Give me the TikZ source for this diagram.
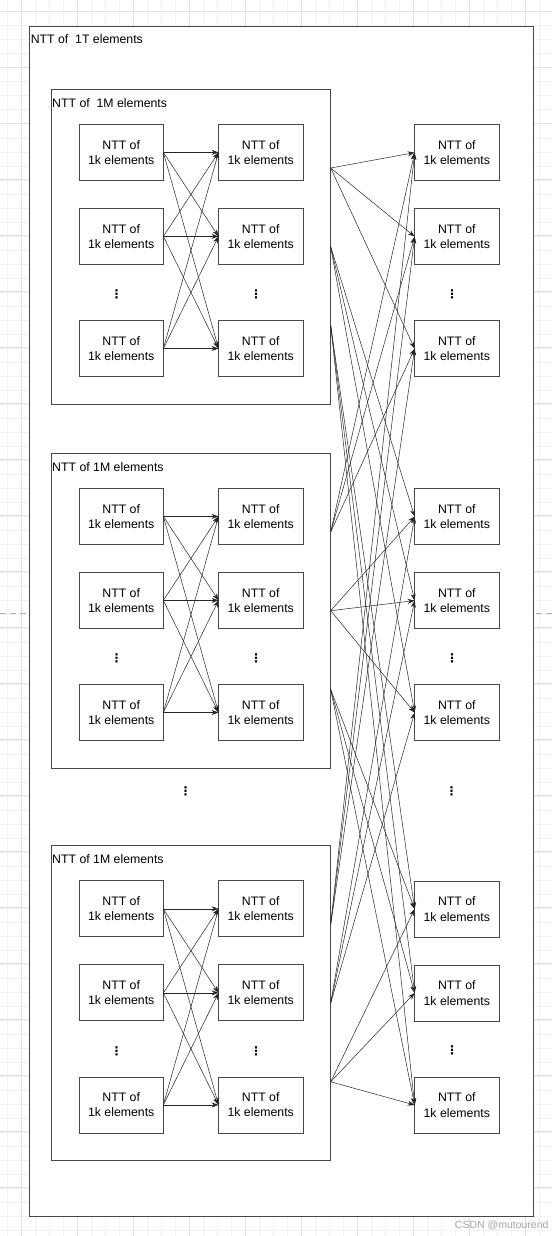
\documentclass[tikz,border=0pt]{standalone}
\usepackage{fontspec}
\setmainfont{Liberation Sans}
\newfontfamily\symfont{DejaVu Sans}
\usetikzlibrary{arrows.meta,calc}
\begin{document}
\begin{tikzpicture}[x=1pt,y=-1pt,
  frame/.style={draw=black!72, line width=0.7pt, fill=white, inner sep=0pt, outer sep=0pt, anchor=north west},
  nttbox/.style={draw=black!72, line width=0.7pt, fill=white, minimum width=84.3pt, minimum height=56pt, inner sep=0pt, outer sep=0pt, align=center, font=\fontsize{12.3}{15.3}\selectfont},
  lbl/.style={anchor=west, inner sep=0pt, font=\fontsize{12.3}{14}\selectfont},
  vdotsnode/.style={inner sep=0pt, font=\symfont\bfseries\fontsize{12}{12}\selectfont},
  conn/.style={draw=black!85, line width=0.5pt, -{Stealth[length=7pt,width=5pt]}},
  gridminor/.style={draw=black!5, line width=0.4pt},
  gridmajor/.style={draw=black!12, line width=0.5pt},
  pagebreak/.style={draw=black!30, line width=0.7pt, dash pattern=on 6pt off 4pt}]
\useasboundingbox (0,0) rectangle (552,1236);
\fill[white] (0,0) rectangle (552,1236);
% background grid
\foreach \k in {0,...,40} {\draw[gridminor] ({7+14*\k},0) -- ({7+14*\k},1236);}
\foreach \k in {0,...,89} {\draw[gridminor] (0,{-2.3+14*\k}) -- (552,{-2.3+14*\k});}
\foreach \k in {0,...,9} {\draw[gridmajor] ({21+56*\k},0) -- ({21+56*\k},1236);}
\foreach \k in {0,...,22} {\draw[gridmajor] (0,{11.7+56*\k}) -- (552,{11.7+56*\k});}
% outer frame
\node[frame, minimum width=503.9pt, minimum height=1189.6pt] (T) at (29.6,26.7) {};
\coordinate (pbl) at (0,613);
\coordinate (pbr) at (552,613);
\draw[pagebreak] (pbl) -- (pbl -| T.west);
\draw[pagebreak] (pbr) -- (pbr -| T.east);
\node[lbl] (Ttitle) at (30.6,39.5) {NTT of\ \ 1T elements};
% 1M blocks
\foreach \i/\top in {1/89.3,2/453.3,3/845.7} {
  \node[frame, minimum width=279.7pt, minimum height=314.8pt] (m\i) at (51,\top) {};
  \coordinate (p\i1) at ($(m\i.north east)!0.25!(m\i.south east)$);
  \coordinate (p\i2) at ($(m\i.north east)!0.5!(m\i.south east)$);
  \coordinate (p\i3) at ($(m\i.north east)!0.75!(m\i.south east)$);
}
\node[lbl] (m1title) at (52,102.7) {NTT of\ \ 1M elements};
\node[lbl] (m2title) at (52,466.7) {NTT of 1M elements};
\node[lbl] (m3title) at (52,859.1) {NTT of 1M elements};
% small boxes inside blocks
\foreach \i/\off in {1/0,2/364,3/756.4} {
  \foreach \r/\y in {1/152.4,2/236.4,3/348.5} {
    \node[nttbox] (a\i\r) at (121.2,\y+\off) {NTT of\\1k elements};
    \node[nttbox] (b\i\r) at (260.7,\y+\off) {NTT of\\1k elements};
  }
  \node[vdotsnode] (da\i) at (116.5,294.5+\off) {⋮};
  \node[vdotsnode] (db\i) at (256,294.5+\off) {⋮};
}
% right column
\foreach \g/\off in {1/0,2/364,3/756.4} {
  \foreach \r/\y in {1/152.6,2/236.6,3/348.6} {
    \node[nttbox] (c\g\r) at (456.8,\y+\off) {NTT of\\1k elements};
  }
  \node[vdotsnode] (dc\g) at (452,294+\off) {⋮};
}
\node[vdotsnode] (dmidl) at (185.7,791.7) {⋮};
\node[vdotsnode] (dmidr) at (451.7,791.7) {⋮};
% connectors inside blocks
\foreach \i in {1,2,3} {
  \foreach \r in {1,2,3} {
    \foreach \s in {1,2,3} {
      \draw[conn] (a\i\r.east) -- (b\i\s.west);
    }
  }
}
% cross connectors
\foreach \i in {1,2,3} {
  \foreach \j in {1,2,3} {
    \foreach \k in {1,2,3} {
      \draw[conn] (p\i\j) -- (c\j\k.west);
    }
  }
}
\node[anchor=east, inner sep=0pt, text=black!35, font=\fontsize{10.5}{11}\selectfont] (wm) at (548.7,1225) {CSDN @mutourend};
\end{tikzpicture}
\end{document}
